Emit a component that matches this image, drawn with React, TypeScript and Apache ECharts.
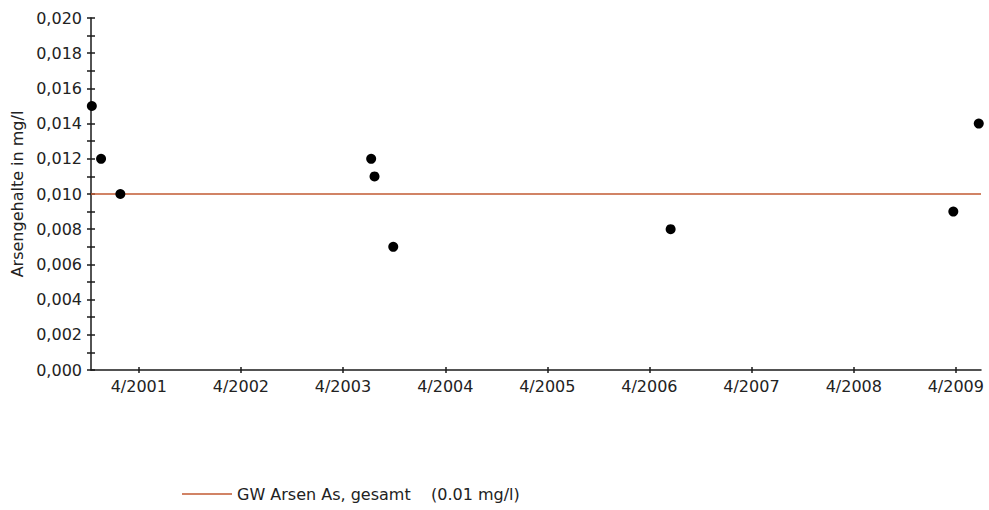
import React, { useEffect, useRef } from "react";
import * as echarts from "echarts";

const sampleDates: string[] = [
  "2000-10-15",
  "2000-11-17",
  "2001-01-25",
  "2003-07-11",
  "2003-07-23",
  "2003-09-28",
  "2006-06-16",
  "2009-03-23",
  "2009-06-22",
];
const arsenValues: number[] = [0.015, 0.012, 0.01, 0.012, 0.011, 0.007, 0.008, 0.009, 0.014];
const tickYears: number[] = [2001, 2002, 2003, 2004, 2005, 2006, 2007, 2008, 2009];
const tickMonth = 4;
const xStart = "2000-10-12";
const xEnd = "2009-06-30";
const limitValue = 0.01;
const limitName = "GW Arsen As, gesamt    (0.01 mg/l)";
const yAxisName = "Arsengehalte in mg/l";

const ts = (s: string) => {
  const [y, m, d] = s.split("-").map(Number);
  return Date.UTC(y, m - 1, d);
};

export default function App() {
  const ref = useRef<HTMLDivElement>(null);
  useEffect(() => {
    if (!ref.current) return;
    const chart = echarts.init(ref.current, undefined, { renderer: "svg" });
    const font = "DejaVu Sans";
    const minX = ts(xStart);
    const maxX = ts(xEnd);
    const tickVals = tickYears.map((y) => Date.UTC(y, tickMonth - 1, 1));
    const fmtX = (v: number) => {
      const d = new Date(v);
      return `${d.getUTCMonth() + 1}/${d.getUTCFullYear()}`;
    };
    const baseX = {
      type: "value" as const,
      min: minX,
      max: maxX,
      splitLine: { show: false },
    };
    const baseY = {
      type: "value" as const,
      min: 0,
      max: 0.02,
      interval: 0.002,
      splitLine: { show: false },
      minorSplitLine: { show: false },
    };
    const axisColor = "#1a1a1a";
    chart.setOption({
      animation: false,
      backgroundColor: "#ffffff",
      grid: { left: 91, top: 18, right: 8, bottom: 140, containLabel: false },
      legend: {
        left: 177,
        top: 481,
        padding: 5,
        icon: "rect",
        itemWidth: 50,
        itemHeight: 1.5,
        data: [{ name: limitName }],
        textStyle: { fontFamily: font, fontSize: 16, color: "#222" },
      },
      xAxis: [
        {
          ...baseX,
          axisLine: { show: true, lineStyle: { color: axisColor, width: 1.5 } },
          axisTick: { show: true, length: 3, customValues: tickVals, lineStyle: { color: axisColor, width: 1.5 } },
          axisLabel: {
            show: true,
            customValues: tickVals,
            formatter: fmtX,
            margin: 8,
            fontFamily: font,
            fontSize: 16,
            color: "#222",
          },
        },
        {
          ...baseX,
          position: "bottom",
          axisLine: { show: false },
          axisTick: { show: true, inside: true, length: 3, customValues: tickVals, lineStyle: { color: axisColor, width: 1.5 } },
          axisLabel: { show: false },
        },
      ],
      yAxis: [
        {
          ...baseY,
          name: yAxisName,
          nameLocation: "middle",
          nameGap: 66,
          nameTextStyle: { fontFamily: font, fontSize: 16, color: "#222" },
          axisLine: { show: true, lineStyle: { color: axisColor, width: 1.5 } },
          axisTick: { show: true, length: 4, lineStyle: { color: axisColor, width: 1.5 } },
          minorTick: { show: true, splitNumber: 2, length: 4, lineStyle: { color: axisColor, width: 1.5 } },
          axisLabel: {
            show: true,
            margin: 9,
            fontFamily: font,
            fontSize: 16,
            color: "#222",
            formatter: (v: number) => v.toFixed(3).replace(".", ","),
          },
        },
        {
          ...baseY,
          position: "left",
          axisLine: { show: false },
          axisTick: { show: true, inside: true, length: 4, lineStyle: { color: axisColor, width: 1.5 } },
          minorTick: { show: true, splitNumber: 2, length: 4, lineStyle: { color: axisColor, width: 1.5 } },
          axisLabel: { show: false },
        },
      ],
      series: [
        {
          name: limitName,
          type: "line",
          xAxisIndex: 0,
          yAxisIndex: 0,
          symbol: "none",
          lineStyle: { color: "#c25a32", width: 1.5 },
          itemStyle: { color: "#c25a32" },
          data: [
            [minX, limitValue],
            [maxX, limitValue],
          ],
          silent: true,
          z: 1,
        },
        {
          name: "Messwerte",
          type: "scatter",
          xAxisIndex: 0,
          yAxisIndex: 0,
          symbol: "circle",
          symbolSize: 10,
          clip: false,
          itemStyle: { color: "#000000", opacity: 1 },
          data: sampleDates.map((d, i) => [ts(d), arsenValues[i]]),
          z: 3,
        },
      ],
    });
    return () => chart.dispose();
  }, []);
  return (
    <div
      ref={ref}
      style={{ position: "absolute", left: 0, top: 0, width: 989, height: 510 }}
    />
  );
}
